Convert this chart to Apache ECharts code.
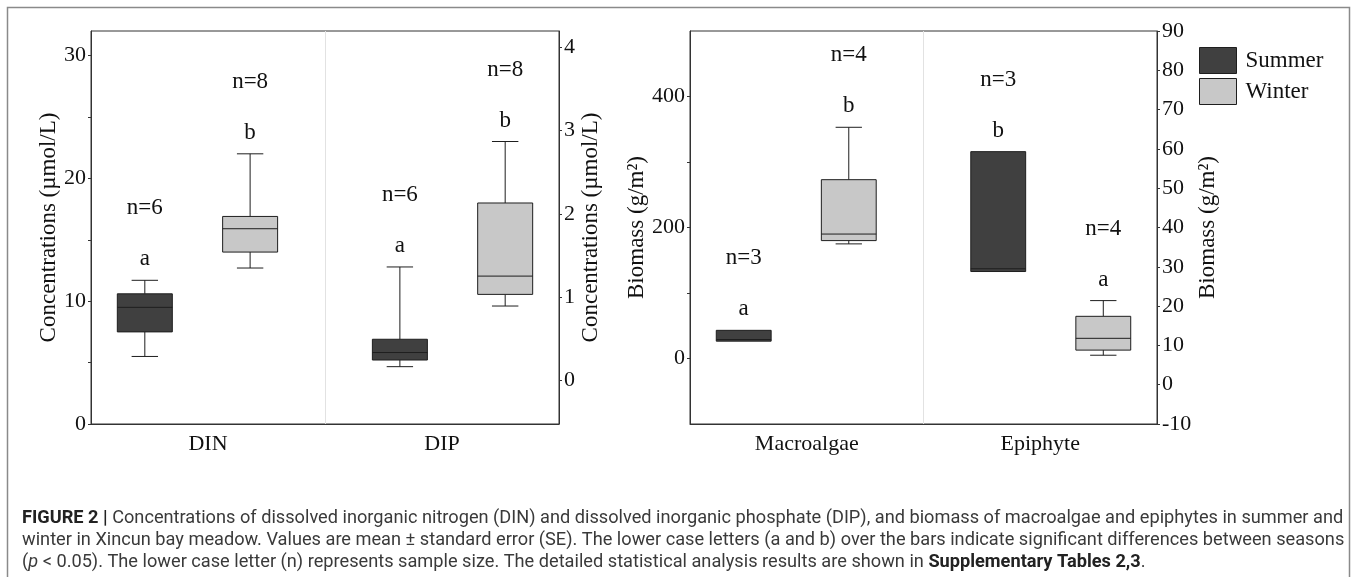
<!DOCTYPE html>
<html>
<head>
<meta charset="utf-8">
<title>Figure 2</title>
<script src="https://cdn.jsdelivr.net/npm/echarts@6/dist/echarts.min.js"></script>
<style>
html, body { margin: 0; padding: 0; background: #fff; }
#chart { width: 1357px; height: 577px; }
</style>
</head>
<body>
<div id="chart"></div>
<script>
// categories of the two panels
var waterCats = ['DIN', 'DIP'];
var algaeCats = ['Macroalgae', 'Epiphyte'];

// box values: [min, Q1, median, Q3, max]
var dinSummer = [5.5, 7.5, 9.5, 10.6, 11.7];
var dinWinter = [12.7, 14.0, 15.9, 16.9, 22.0];
var dipSummer = [0.16, 0.24, 0.33, 0.49, 1.36];
var dipWinter = [0.89, 1.03, 1.25, 2.13, 2.87];
var macroSummer = [26.5, 26.5, 29, 43, 43];
var macroWinter = [175, 180, 190, 273, 353];
var epiSummer = [28.8, 28.8, 29.5, 59.3, 59.3];
var epiWinter = [7.5, 8.8, 11.8, 17.4, 21.4];

// significance letters and sample sizes (one per category)
var waterLetterSummer = ['a', 'a'];
var waterLetterWinter = ['b', 'b'];
var waterNSummer = [6, 6];
var waterNWinter = [8, 8];
var algaeLetterSummer = ['a', 'b'];
var algaeLetterWinter = ['b', 'a'];
var algaeNSummer = [3, 3];
var algaeNWinter = [4, 4];

// tick labels / tick marks
var dinLabels = [0, 10, 20, 30];
var dinTicks = [0, 5, 10, 15, 20, 25, 30];
var dipTicks = [0, 1, 2, 3, 4];
var macroLabels = [0, 200, 400];
var macroTicks = [0, 100, 200, 300, 400];
var epiTicks = [-10, 0, 10, 20, 30, 40, 50, 60, 70, 80, 90];

var SERIF = '"Liberation Serif", "DejaVu Serif", serif';
var SANS = 'Roboto, "Liberation Sans", sans-serif';
var CAP = 18.2;
var INK = '#1e1e1e';
var fills = {Summer: '#404040', Winter: '#c8c8c8'};
// where the boxes sit inside a band (fraction of band width): [summer, winter]
var boxShift = [[-0.27, 0.18], [-0.18, 0.27]];

function boxSeries(name, season, cat, gridIdx, yIdx, vals, letter, n) {
    return {
        type: 'custom',
        name: name,
        xAxisIndex: gridIdx,
        yAxisIndex: yIdx,
        itemStyle: {color: fills[name]},
        data: [[cat].concat(vals)],
        renderItem: function (params, api) {
            var c = api.value(0);
            var band = api.size([1, 0])[0];
            var cx = api.coord([c, 0])[0] + band * boxShift[c][season];
            var y = function (i) { return api.coord([c, api.value(i)])[1]; };
            var w = band * 0.235, cap = w * 0.48;
            var lo = y(1), q1 = y(2), med = y(3), q3 = y(4), hi = y(5);
            var ln = {stroke: INK, lineWidth: 1};
            var txt = function (s, ty) {
                return {type: 'text', style: {text: s, x: cx, y: ty, align: 'center', verticalAlign: 'middle',
                    fontSize: 23, fontFamily: SERIF, fill: '#111'}};
            };
            var kids = [];
            if (hi < q3) {
                kids.push({type: 'line', shape: {x1: cx, y1: hi, x2: cx, y2: q3}, style: ln});
                kids.push({type: 'line', shape: {x1: cx - cap / 2, y1: hi, x2: cx + cap / 2, y2: hi}, style: ln});
            }
            if (lo > q1) {
                kids.push({type: 'line', shape: {x1: cx, y1: q1, x2: cx, y2: lo}, style: ln});
                kids.push({type: 'line', shape: {x1: cx - cap / 2, y1: lo, x2: cx + cap / 2, y2: lo}, style: ln});
            }
            kids.push({type: 'rect', shape: {x: cx - w / 2, y: q3, width: w, height: q1 - q3},
                style: {fill: fills[name], stroke: INK, lineWidth: 1}});
            kids.push({type: 'line', shape: {x1: cx - w / 2, y1: med, x2: cx + w / 2, y2: med}, style: ln});
            kids.push(txt(letter, hi - 21));
            kids.push(txt('n=' + n, hi - 72));
            return {type: 'group', children: kids};
        }
    };
}

function yAxisBase(gridIdx, pos, min, max, name, nameGap, labels, ticks) {
    return {
        type: 'value', gridIndex: gridIdx, position: pos, min: min, max: max,
        name: name, nameLocation: 'middle', nameGap: nameGap,
        nameTextStyle: {fontFamily: SERIF, fontSize: 23, color: '#111'},
        axisLine: {show: true, onZero: false, lineStyle: {color: '#333', width: 1}},
        axisTick: {show: true, length: 3, customValues: ticks, lineStyle: {color: '#333'}},
        axisLabel: {customValues: labels, margin: 5, fontFamily: SERIF, fontSize: 22, color: '#111'},
        splitLine: {show: false}
    };
}

function xAxisBase(gridIdx, cats) {
    return {
        type: 'category', gridIndex: gridIdx, data: cats,
        axisLine: {show: true, onZero: false, lineStyle: {color: '#333'}},
        axisTick: {show: false},
        axisLabel: {margin: 9, fontFamily: SERIF, fontSize: 22, color: '#111'},
        splitLine: {show: true, showMinLine: false, showMaxLine: false, lineStyle: {color: '#e2e2e2', width: 1}}
    };
}

var caption =
    '{b|FIGURE 2 |} Concentrations of dissolved inorganic nitrogen (DIN) and dissolved inorganic phosphate (DIP), and biomass of macroalgae and epiphytes in summer and\n' +
    'winter in Xincun bay meadow. Values are mean \u00b1 standard error (SE). The lower case letters (a and b) over the bars indicate significant differences between seasons\n' +
    '({i|p} < 0.05). The lower case letter (n) represents sample size. The detailed statistical analysis results are shown in {b|Supplementary Tables 2,3}.';

var option = {
    animation: false,
    backgroundColor: '#fff',
    grid: [
        {left: 91, top: 31, width: 468, height: 393, show: true, borderColor: '#333', borderWidth: 1},
        {left: 690, top: 31, width: 467, height: 393, show: true, borderColor: '#333', borderWidth: 1}
    ],
    xAxis: [xAxisBase(0, waterCats), xAxisBase(1, algaeCats)],
    yAxis: [
        yAxisBase(0, 'left', 0, 32, 'Concentrations (\u00b5mol/L)', 23, dinLabels, dinTicks),
        yAxisBase(0, 'right', -0.53, 4.2, 'Concentrations (\u00b5mol/L)', 20, dipTicks, dipTicks),
        yAxisBase(1, 'left', -100, 500, 'Biomass (g/m\u00b2)', 38, macroLabels, macroTicks),
        yAxisBase(1, 'right', -10, 90, 'Biomass (g/m\u00b2)', 39, epiTicks, epiTicks)
    ],
    legend: {
        left: 1194, top: 42, orient: 'vertical', icon: 'rect',
        itemWidth: 37, itemHeight: 26, itemGap: 4, selectedMode: false,
        textStyle: {fontFamily: SERIF, fontSize: 23, color: '#111', padding: [0, 0, 0, 4]},
        data: [
            {name: 'Summer', itemStyle: {color: fills.Summer, borderColor: INK, borderWidth: 1}},
            {name: 'Winter', itemStyle: {color: fills.Winter, borderColor: INK, borderWidth: 1}}
        ]
    },
    graphic: [
        {type: 'rect', silent: true, shape: {x: 7.5, y: 7.5, width: 1342, height: 620},
            style: {fill: 'none', stroke: '#8a8a8a', lineWidth: 1.5}},
        {type: 'text', left: 22, top: 507, silent: true,
            style: {text: caption, fontFamily: SANS, fontSize: CAP, lineHeight: 22, fill: '#3a3a3a',
                rich: {
                    b: {fontFamily: SANS, fontSize: CAP, fontWeight: 'bold', fill: '#222', lineHeight: 22},
                    i: {fontFamily: SANS, fontSize: CAP, fontStyle: 'italic', fill: '#3a3a3a', lineHeight: 22}
                }}}
    ],
    series: [
        boxSeries('Summer', 0, 0, 0, 0, dinSummer, waterLetterSummer[0], waterNSummer[0]),
        boxSeries('Winter', 1, 0, 0, 0, dinWinter, waterLetterWinter[0], waterNWinter[0]),
        boxSeries('Summer', 0, 1, 0, 1, dipSummer, waterLetterSummer[1], waterNSummer[1]),
        boxSeries('Winter', 1, 1, 0, 1, dipWinter, waterLetterWinter[1], waterNWinter[1]),
        boxSeries('Summer', 0, 0, 1, 2, macroSummer, algaeLetterSummer[0], algaeNSummer[0]),
        boxSeries('Winter', 1, 0, 1, 2, macroWinter, algaeLetterWinter[0], algaeNWinter[0]),
        boxSeries('Summer', 0, 1, 1, 3, epiSummer, algaeLetterSummer[1], algaeNSummer[1]),
        boxSeries('Winter', 1, 1, 1, 3, epiWinter, algaeLetterWinter[1], algaeNWinter[1])
    ]
};

echarts.init(document.getElementById('chart')).setOption(option);
</script>
</body>
</html>
